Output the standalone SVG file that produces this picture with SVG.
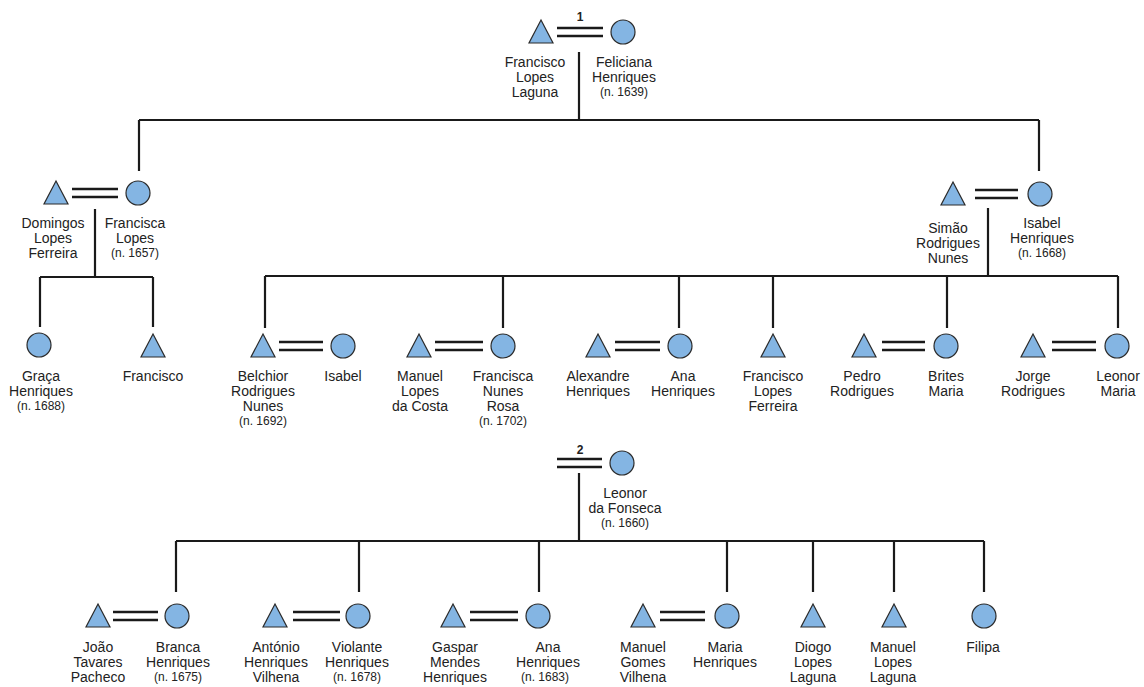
<svg xmlns="http://www.w3.org/2000/svg" xmlns:xlink="http://www.w3.org/1999/xlink" width="1144" height="687" viewBox="0 0 1144 687">
<style>
.m{fill:#84b5e3;stroke:#2b2b2b;stroke-width:1.2}
.c{fill:none;stroke:#1a1a1a;stroke-width:2.2}
.mar{fill:none;stroke:#1a1a1a;stroke-width:2.4}
text{font-family:"Liberation Sans",Arial,sans-serif;font-size:14px;fill:#222;text-anchor:middle}
.d{font-size:12px}
.n{font-size:12px;font-weight:bold}
</style>
<defs>
<path id="tri" d="M0,-12 L12,11 L-12,11 Z"/>
<circle id="cir" r="12"/>
</defs>
<rect width="1144" height="687" fill="#fff"/>
<g id="connectors">
<path class="c" d="M579,52V120M139,120H1039M139,120V171M1039,120V171"/>
<path class="c" d="M95,209V277M40,277H153M40,277V327M153,277V327"/>
<path class="c" d="M988,208V276M265,276H1118M265,276V328M503,276V328M679,276V328M773,276V328M947,276V328M1118,276V328"/>
<path class="c" d="M579,473V541M176,541H984M176,541V592M359,541V592M539,541V592M727,541V592M813,541V592M894,541V592M984,541V592"/>
<path class="mar" d="M557,28H603M557,36H603"/>
<path class="mar" d="M72,189H118M72,197H118"/>
<path class="mar" d="M975,190H1018M975,198H1018"/>
<path class="mar" d="M279,342H323M279,350H323M435,342H483M435,350H483M615,342H660M615,350H660M882,342H925M882,350H925M1052,342H1096M1052,350H1096"/>
<path class="mar" d="M557,459H602M557,467H602"/>
<path class="mar" d="M113,612H158M113,620H158M293,612H340M293,620H340M470,612H518M470,620H518M660,612H705M660,620H705"/>
<text class="n" x="580" y="21">1</text>
<text class="n" x="580" y="454">2</text>
</g>
<g id="n-francisco-lopes-laguna"><use xlink:href="#tri" class="m" x="541" y="32"/><text x="535" y="67">Francisco</text><text x="535" y="82">Lopes</text><text x="535" y="97">Laguna</text></g>
<g id="n-feliciana"><use xlink:href="#cir" class="m" x="623" y="32"/><text x="624" y="67">Feliciana</text><text x="624" y="82">Henriques</text><text class="d" x="624" y="96">(n. 1639)</text></g>
<g id="n-domingos"><use xlink:href="#tri" class="m" x="56" y="193"/><text x="53" y="228">Domingos</text><text x="53" y="243">Lopes</text><text x="53" y="258">Ferreira</text></g>
<g id="n-francisca-lopes"><use xlink:href="#cir" class="m" x="138" y="193"/><text x="135" y="228">Francisca</text><text x="135" y="243">Lopes</text><text class="d" x="135" y="257">(n. 1657)</text></g>
<g id="n-simao"><use xlink:href="#tri" class="m" x="953" y="194"/><text x="948" y="233">Simão</text><text x="948" y="248">Rodrigues</text><text x="948" y="263">Nunes</text></g>
<g id="n-isabel-henriques"><use xlink:href="#cir" class="m" x="1040" y="194"/><text x="1042" y="228">Isabel</text><text x="1042" y="243">Henriques</text><text class="d" x="1042" y="257">(n. 1668)</text></g>
<g id="n-graca"><use xlink:href="#cir" class="m" x="39" y="345"/><text x="41" y="381">Graça</text><text x="41" y="396">Henriques</text><text class="d" x="41" y="410">(n. 1688)</text></g>
<g id="n-francisco"><use xlink:href="#tri" class="m" x="153" y="346"/><text x="153" y="381">Francisco</text></g>
<g id="n-belchior"><use xlink:href="#tri" class="m" x="263" y="346"/><text x="263" y="381">Belchior</text><text x="263" y="396">Rodrigues</text><text x="263" y="411">Nunes</text><text class="d" x="263" y="425">(n. 1692)</text></g>
<g id="n-isabel"><use xlink:href="#cir" class="m" x="343" y="346"/><text x="343" y="381">Isabel</text></g>
<g id="n-manuel-lopes-da-costa"><use xlink:href="#tri" class="m" x="419" y="346"/><text x="420" y="381">Manuel</text><text x="420" y="396">Lopes</text><text x="420" y="411">da Costa</text></g>
<g id="n-francisca-nunes-rosa"><use xlink:href="#cir" class="m" x="503" y="346"/><text x="503" y="381">Francisca</text><text x="503" y="396">Nunes</text><text x="503" y="411">Rosa</text><text class="d" x="503" y="425">(n. 1702)</text></g>
<g id="n-alexandre"><use xlink:href="#tri" class="m" x="598" y="346"/><text x="598" y="381">Alexandre</text><text x="598" y="396">Henriques</text></g>
<g id="n-ana-henriques-1"><use xlink:href="#cir" class="m" x="680" y="346"/><text x="683" y="381">Ana</text><text x="683" y="396">Henriques</text></g>
<g id="n-francisco-lopes-ferreira"><use xlink:href="#tri" class="m" x="773" y="346"/><text x="773" y="381">Francisco</text><text x="773" y="396">Lopes</text><text x="773" y="411">Ferreira</text></g>
<g id="n-pedro"><use xlink:href="#tri" class="m" x="864" y="346"/><text x="862" y="381">Pedro</text><text x="862" y="396">Rodrigues</text></g>
<g id="n-brites"><use xlink:href="#cir" class="m" x="946" y="346"/><text x="946" y="381">Brites</text><text x="946" y="396">Maria</text></g>
<g id="n-jorge"><use xlink:href="#tri" class="m" x="1033" y="346"/><text x="1033" y="381">Jorge</text><text x="1033" y="396">Rodrigues</text></g>
<g id="n-leonor-maria"><use xlink:href="#cir" class="m" x="1117" y="346"/><text x="1118" y="381">Leonor</text><text x="1118" y="396">Maria</text></g>
<g id="n-leonor-fonseca"><use xlink:href="#cir" class="m" x="622" y="463"/><text x="625" y="498">Leonor</text><text x="625" y="513">da Fonseca</text><text class="d" x="625" y="527">(n. 1660)</text></g>
<g id="n-joao"><use xlink:href="#tri" class="m" x="98" y="616"/><text x="98" y="652">João</text><text x="98" y="667">Tavares</text><text x="98" y="682">Pacheco</text></g>
<g id="n-branca"><use xlink:href="#cir" class="m" x="177" y="616"/><text x="178" y="652">Branca</text><text x="178" y="667">Henriques</text><text class="d" x="178" y="681">(n. 1675)</text></g>
<g id="n-antonio"><use xlink:href="#tri" class="m" x="275" y="616"/><text x="276" y="652">António</text><text x="276" y="667">Henriques</text><text x="276" y="682">Vilhena</text></g>
<g id="n-violante"><use xlink:href="#cir" class="m" x="358" y="616"/><text x="357" y="652">Violante</text><text x="357" y="667">Henriques</text><text class="d" x="357" y="681">(n. 1678)</text></g>
<g id="n-gaspar"><use xlink:href="#tri" class="m" x="453" y="616"/><text x="455" y="652">Gaspar</text><text x="455" y="667">Mendes</text><text x="455" y="682">Henriques</text></g>
<g id="n-ana-henriques-2"><use xlink:href="#cir" class="m" x="538" y="616"/><text x="548" y="652">Ana</text><text x="548" y="667">Henriques</text><text class="d" x="545" y="681">(n. 1683)</text></g>
<g id="n-manuel-gomes"><use xlink:href="#tri" class="m" x="643" y="616"/><text x="643" y="652">Manuel</text><text x="643" y="667">Gomes</text><text x="643" y="682">Vilhena</text></g>
<g id="n-maria-henriques"><use xlink:href="#cir" class="m" x="727" y="616"/><text x="725" y="652">Maria</text><text x="725" y="667">Henriques</text></g>
<g id="n-diogo"><use xlink:href="#tri" class="m" x="813" y="616"/><text x="813" y="652">Diogo</text><text x="813" y="667">Lopes</text><text x="813" y="682">Laguna</text></g>
<g id="n-manuel-lopes-laguna"><use xlink:href="#tri" class="m" x="894" y="616"/><text x="893" y="652">Manuel</text><text x="893" y="667">Lopes</text><text x="893" y="682">Laguna</text></g>
<g id="n-filipa"><use xlink:href="#cir" class="m" x="984" y="616"/><text x="983" y="652">Filipa</text></g>
</svg>
